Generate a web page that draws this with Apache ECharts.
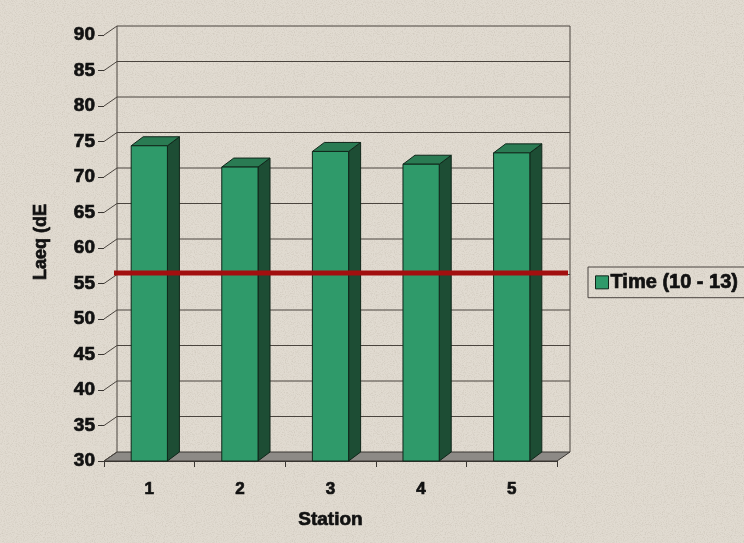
<!DOCTYPE html>
<html>
<head>
<meta charset="utf-8">
<script src="https://cdn.jsdelivr.net/npm/echarts@6/dist/echarts.min.js"></script>
<style>
  html, body { margin: 0; padding: 0; }
  body {
    width: 744px; height: 543px; overflow: hidden;
    background-color: #e1dbd1;
    background-image: url("data:image/svg+xml;utf8,<svg xmlns='http://www.w3.org/2000/svg' width='200' height='200'><filter id='n'><feTurbulence type='fractalNoise' baseFrequency='0.9' numOctaves='2' seed='7'/><feColorMatrix values='0 0 0 0 0.45 0 0 0 0 0.40 0 0 0 0 0.33 0 0 0 -2.2 1.25'/></filter><rect width='200' height='200' filter='url(%23n)' opacity='0.35'/></svg>");
  }
  #chart { width: 744px; height: 543px; }
</style>
</head>
<body>
<div id="chart"></div>
<script>
// Noise level per measuring station, dB
const stations = ['1', '2', '3', '4', '5'];
const laeq = [74.4, 71.4, 73.6, 71.8, 73.4];
const seriesName = 'Time (10 - 13)';
// Permissible limit drawn as a red line across the back wall
const limit = 55;
// Value axis range and step
const yMin = 30, yMax = 90, yStep = 5;
const yTicks = [30, 35, 40, 45, 50, 55, 60, 65, 70, 75, 80, 85, 90];

// Pseudo-3D depth offsets (pixels)
const WALL_DX = 13, WALL_DY = -9;
const BAR_DX = 12, BAR_DY = -9;
const BAR_RATIO = 0.4;

const FONT = '"Liberation Sans", Arial, sans-serif';
const LINE = '#4a443e';
// heavy text: bold face thickened with a thin outline of the same colour
const heavy = { fontFamily: FONT, fontWeight: 'bold', color: '#111', textBorderColor: '#111', textBorderWidth: 0.7 };

const chart = echarts.init(document.getElementById('chart'), null, { renderer: 'canvas' });

function renderWalls(params, api) {
  const cs = params.coordSys;
  const xl = cs.x, xr = cs.x + cs.width;
  const yb = api.coord([0, yMin])[1];
  const yt = api.coord([0, yMax])[1];
  const children = [];
  // floor
  children.push({
    type: 'polygon',
    shape: { points: [[xl, yb], [xr, yb], [xr + WALL_DX, yb + WALL_DY], [xl + WALL_DX, yb + WALL_DY]] },
    style: { fill: '#8d8a86', stroke: '#3a3632', lineWidth: 1 }
  });
  // back wall gridlines and left-wall diagonals
  yTicks.forEach(function (v) {
    const y = api.coord([0, v])[1];
    if (v > yMin) {
      children.push({
        type: 'line',
        shape: { x1: xl + WALL_DX, y1: y + WALL_DY, x2: xr + WALL_DX, y2: y + WALL_DY },
        style: { stroke: LINE, lineWidth: 1 }
      });
    }
    children.push({
      type: 'line',
      shape: { x1: xl, y1: y, x2: xl + WALL_DX, y2: y + WALL_DY },
      style: { stroke: LINE, lineWidth: 1 }
    });
  });
  // back wall vertical edges
  [xl + WALL_DX, xr + WALL_DX].forEach(function (x) {
    children.push({
      type: 'line',
      shape: { x1: x, y1: yt + WALL_DY, x2: x, y2: yb + WALL_DY },
      style: { stroke: LINE, lineWidth: 1 }
    });
  });
  return { type: 'group', children: children };
}

function renderBar(params, api) {
  const cat = api.value(0), v = api.value(1);
  const top = api.coord([cat, v]);
  const base = api.coord([cat, yMin]);
  const bw = api.size([1, 0])[0] * BAR_RATIO;
  const x0 = top[0] - bw / 2, x1 = top[0] + bw / 2;
  const yt = top[1], yb = base[1];
  const stroke = '#10261a';
  return {
    type: 'group',
    children: [
      {
        type: 'polygon',
        shape: { points: [[x1, yt], [x1 + BAR_DX, yt + BAR_DY], [x1 + BAR_DX, yb + BAR_DY], [x1, yb]] },
        style: { fill: '#1d4d34', stroke: stroke, lineWidth: 1 }
      },
      {
        type: 'polygon',
        shape: { points: [[x0, yt], [x0 + BAR_DX, yt + BAR_DY], [x1 + BAR_DX, yt + BAR_DY], [x1, yt]] },
        style: { fill: '#2a7b53', stroke: stroke, lineWidth: 1 }
      },
      {
        type: 'rect',
        shape: { x: x0, y: yt, width: bw, height: yb - yt },
        style: { fill: '#2f9a6a', stroke: stroke, lineWidth: 1 }
      }
    ]
  };
}

function renderLimit(params, api) {
  const cs = params.coordSys;
  const y = api.coord([0, api.value(0)])[1] + WALL_DY - 1.5;
  return {
    type: 'line',
    shape: { x1: cs.x + WALL_DX - 3, y1: y, x2: cs.x + cs.width + WALL_DX - 2, y2: y },
    style: { stroke: '#a20f0f', lineWidth: 5 }
  };
}

const option = {
  backgroundColor: 'transparent',
  animation: false,
  grid: { left: 104, right: 187, top: 35, bottom: 82 },
  legend: {
    data: [seriesName],
    left: 588, top: 267,
    orient: 'vertical',
    padding: [5, 40, 5, 7],
    borderColor: '#4a4440', borderWidth: 1,
    itemWidth: 13, itemHeight: 13, itemGap: 4,
    icon: 'rect',
    itemStyle: { color: '#2f9a6a', borderColor: '#10261a', borderWidth: 1 },
    textStyle: Object.assign({}, heavy, { fontSize: 20, padding: [0, 0, 0, -3] })
  },
  xAxis: {
    type: 'category',
    data: stations,
    boundaryGap: true,
    axisLine: { show: true, lineStyle: { color: '#3a3632', width: 1 } },
    axisTick: { show: true, length: 6, lineStyle: { color: '#3a3632' } },
    axisLabel: Object.assign({}, heavy, { fontSize: 17, margin: 20 }),
    name: 'Station',
    nameLocation: 'middle',
    nameGap: 49,
    nameTextStyle: Object.assign({}, heavy, { fontSize: 19 }),
    splitLine: { show: false }
  },
  yAxis: {
    type: 'value',
    min: yMin, max: yMax, interval: yStep,
    axisLine: { show: false },
    axisTick: { show: true, length: 6, lineStyle: { color: '#3a3632' } },
    axisLabel: Object.assign({}, heavy, { fontSize: 19, margin: 9 }),
    splitLine: { show: false },
    name: 'Laeq (dE',
    nameLocation: 'middle',
    nameRotate: 90,
    nameGap: 54,
    nameTextStyle: Object.assign({}, heavy, { fontSize: 18, padding: [0, 0, 0, 12] })
  },
  series: [
    {
      name: 'walls',
      type: 'custom',
      renderItem: renderWalls,
      data: [[0, yMin]],
      z: 1,
      silent: true
    },
    {
      name: seriesName,
      type: 'custom',
      renderItem: renderBar,
      itemStyle: { color: '#2f9a6a' },
      encode: { x: 0, y: 1 },
      data: laeq.map(function (v, i) { return [i, v]; }),
      z: 2
    },
    {
      name: 'limit',
      type: 'custom',
      renderItem: renderLimit,
      data: [[limit]],
      encode: { y: 0 },
      z: 3,
      silent: true
    }
  ]
};

chart.setOption(option);
</script>
</body>
</html>
